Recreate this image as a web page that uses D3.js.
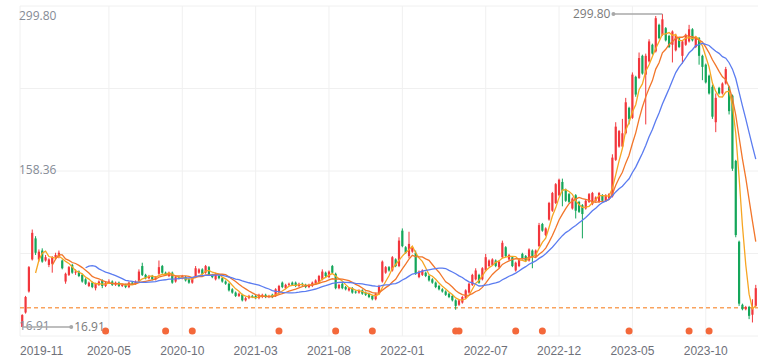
<!DOCTYPE html>
<html>
<head>
<meta charset="utf-8">
<script src="https://cdn.jsdelivr.net/npm/d3@7"></script>
<style>
  body { margin: 0; background: #fff; }
  svg { display: block; font-family: "Open Sans", "Liberation Sans", sans-serif; }
</style>
</head>
<body>
<div id="chart"></div>
<script>
"use strict";

// Weekly bars, first week 2019-11-01
const startDate = "2019-11-01";

const opens = [
    16.91, 30, 49, 78, 97, 78, 86, 77, 73, 74,
    80, 80, 77, 58, 64, 73, 66, 67, 64, 60,
    54, 57, 52, 55, 59, 54, 57, 58, 55, 57,
    54, 55, 53, 57, 56, 58, 72, 64, 61, 63,
    60, 65, 72, 66, 63, 66, 58, 62, 61, 62,
    60, 57, 62, 66, 69, 66, 71, 64, 60, 63,
    61, 58, 56, 51, 48, 45, 46, 41, 43, 45,
    45, 43, 44, 46, 44, 46, 45, 48, 57, 52,
    55, 57, 57, 54, 56, 55, 53, 54, 56, 57,
    60, 66, 62, 72, 65, 52, 56, 53, 50, 52,
    49, 48, 50, 48, 47, 45, 42, 47, 58, 66,
    71, 68, 78, 72, 104, 89, 81, 85, 84, 62,
    64, 66, 63, 60, 57, 54, 51, 49, 47, 45,
    41, 37, 39, 43, 48, 55, 60, 64, 60, 68,
    72, 73, 77, 71, 80, 89, 78, 80, 68, 72,
    83, 81, 77, 86, 81, 90, 110, 100, 114, 122,
    129, 136, 148, 141, 137, 124, 136, 130, 127, 124,
    130, 128, 131, 130, 136, 131, 133, 135, 168, 180,
    180, 192, 215, 206, 243, 242, 262, 245, 257, 272,
    266, 290, 281, 287, 280, 272, 267, 278, 262, 272,
    275, 286, 270, 278, 262, 254, 244, 234, 202, 233,
    228, 237, 234, 226, 167, 94, 37, 33, 35, 28,
    36
];

const closes = [
    27.7, 44, 71, 102, 84, 85, 76, 80, 78, 80,
    82, 84, 70, 65, 71, 66, 67, 63, 58, 56,
    57, 53, 56, 58, 54, 57, 58, 55, 57, 54,
    55, 53, 57, 56, 58, 67, 64, 61, 63, 60,
    62, 71, 66, 64, 66, 57, 62, 61, 63, 59,
    57, 61, 70, 69, 65, 72, 64, 62, 65, 61,
    58, 56, 50, 48, 45, 47, 41, 43, 45, 44,
    43, 46, 46, 44, 45, 44, 51, 54, 53, 55,
    56, 55, 54, 56, 55, 53, 55, 57, 59, 63,
    67, 63, 67, 66, 52, 55, 52, 51, 52, 48,
    48, 50, 47, 46, 44, 42, 47, 54, 76, 71,
    68, 80, 72, 95, 90, 84, 92, 89, 65, 67,
    68, 63, 59, 57, 53, 51, 49, 46, 44, 41,
    36, 41, 44, 50, 56, 64, 68, 57, 70, 80,
    77, 78, 72, 76, 93, 81, 82, 72, 75, 78,
    79, 77, 87, 81, 86, 109, 104, 106, 129, 138,
    146, 150, 140, 131, 130, 133, 122, 121, 119, 131,
    137, 138, 134, 138, 131, 136, 137, 170, 198, 194,
    192, 220, 205, 245, 227, 260, 246, 262, 275, 264,
    296, 278, 295, 276, 270, 284, 280, 270, 275, 281,
    286, 276, 279, 262, 252, 238, 228, 207, 224, 228,
    237, 250, 212, 160, 100, 38, 33, 35, 27, 34,
    52
];

const highs = [
    28.5, 45, 72, 105, 99, 87, 88, 82, 79, 81,
    84, 86, 78, 66, 72, 74, 69, 68, 65, 61,
    58, 58, 57, 59, 60, 58, 60, 59, 58, 58,
    56, 56, 58, 58, 59, 69, 75, 65, 64, 64,
    63, 77, 73, 67, 67, 67, 63, 63, 64, 63,
    61, 62, 72, 70, 70, 73, 72, 65, 66, 64,
    62, 59, 57, 52, 49, 48, 47, 44, 46, 46,
    46, 47, 47, 47, 46, 47, 52, 55, 58, 56,
    57, 58, 58, 57, 57, 56, 56, 58, 60, 64,
    69, 67, 68, 73, 66, 56, 57, 54, 53, 53,
    50, 51, 51, 49, 48, 46, 48, 55, 77, 72,
    72, 81, 79, 98, 106, 90, 103, 90, 86, 68,
    69, 67, 64, 61, 58, 55, 52, 50, 48, 46,
    42, 42, 45, 51, 57, 65, 70, 65, 71, 83,
    78, 79, 78, 77, 95, 90, 83, 81, 76, 79,
    84, 82, 88, 87, 87, 111, 111, 107, 130, 139,
    147, 151, 151, 142, 138, 134, 137, 131, 128, 132,
    138, 139, 135, 139, 137, 137, 138, 173, 202, 195,
    205, 224, 216, 247, 244, 265, 263, 264, 277, 273,
    298, 291, 299.8, 288, 281, 285, 282, 279, 276, 282,
    290, 287, 280, 279, 263, 255, 245, 236, 228, 234,
    238, 252, 235, 227, 168, 95, 38, 36, 36, 42,
    55
];

const lows = [
    16.91, 29, 48, 77, 82, 76, 75, 76, 71, 66,
    78, 79, 69, 56, 63, 65, 64, 62, 57, 55,
    53, 52, 50, 54, 52, 53, 56, 54, 54, 53,
    53, 52, 52, 55, 55, 57, 63, 60, 60, 59,
    59, 64, 65, 63, 62, 56, 57, 60, 60, 58,
    56, 56, 61, 65, 64, 65, 63, 61, 59, 60,
    57, 55, 49, 47, 44, 44, 40, 40, 42, 43,
    42, 42, 43, 43, 43, 43, 44, 47, 52, 51,
    54, 54, 53, 53, 54, 52, 52, 53, 55, 56,
    59, 62, 61, 65, 51, 51, 51, 50, 49, 47,
    47, 47, 46, 45, 43, 41, 41, 46, 57, 65,
    67, 67, 71, 71, 89, 83, 79, 84, 64, 61,
    63, 62, 58, 56, 52, 50, 48, 45, 43, 40,
    32.5, 36, 38, 42, 47, 54, 59, 56, 59, 67,
    71, 72, 71, 70, 79, 80, 77, 71, 67, 71,
    78, 76, 76, 70, 80, 89, 103, 99, 113, 121,
    128, 135, 126, 130, 129, 123, 115, 120, 97, 123,
    129, 127, 130, 129, 130, 130, 132, 134, 167, 179,
    179, 191, 200, 205, 225, 241, 245, 200, 256, 263,
    265, 277, 280, 275, 269, 256, 266, 269, 255, 271,
    274, 275, 269, 254, 240, 237, 227, 205, 193, 227,
    227, 236, 209, 158, 98, 36, 32, 32, 24, 21,
    35
];

const tickLabels = ["2019-11", "2020-05", "2020-10", "2021-03", "2021-08",
    "2022-01", "2022-07", "2022-12", "2023-05", "2023-10"];

const eventDates = ["2020-04-24", "2020-08-28", "2020-10-23", "2021-04-23", "2021-08-20",
    "2021-11-05", "2022-04-29", "2022-05-06", "2022-09-02", "2022-10-28",
    "2023-04-28", "2023-09-01", "2023-10-13"];

const maPeriods = [5, 10, 20];
const maColors = ["#f6a623", "#f2762a", "#5b7cf0"];
const refPrice = 34.4;

const upColor = "#f2363c";
const downColor = "#14a65a";

const width = 758;
const height = 359;
const grid = { left: 20, right: 758, top: 6, bottom: 336 };

//#region Data prep
const parse = d3.utcParse("%Y-%m-%d");
const fmt = d3.utcFormat("%Y-%m-%d");
const dates = opens.map((_, i) => fmt(d3.utcDay.offset(parse(startDate), 7 * i)));
const bars = dates.map((d, i) => ({ date: d, open: opens[i], high: highs[i], low: lows[i], close: closes[i] }));

const movingAverage = (values, period) =>
    values.map((v, i) => i < period - 1 ? null : d3.mean(values.slice(i - period + 1, i + 1)));

const tickDates = tickLabels.map(m => dates.find(d => d.startsWith(m)));
//#endregion

// Scales
const x = d3.scaleBand()
    .domain(dates)
    .range([grid.left, grid.right])
    .padding(0.34);

const y = d3.scaleLinear()
    .domain([d3.min(lows), d3.max(highs)])
    .range([327, 14]);

const cx = d => x(d) + x.bandwidth() / 2;

const svg = d3.select("#chart")
    .append("svg")
    .attr("width", width)
    .attr("height", height);

// Grid
const rows = d3.scaleLinear().domain([0, 4]).range([grid.bottom, grid.top]);
svg.append("g")
    .selectAll("line")
    .data(d3.range(5))
    .join("line")
    .attr("x1", grid.left)
    .attr("x2", grid.right)
    .attr("y1", d => rows(d))
    .attr("y2", d => rows(d))
    .attr("stroke", "#f0f0f0");

svg.append("g")
    .selectAll("line")
    .data([grid.left].concat(tickDates.slice(1).map(cx)))
    .join("line")
    .attr("x1", d => d)
    .attr("x2", d => d)
    .attr("y1", grid.top)
    .attr("y2", grid.bottom)
    .attr("stroke", "#f0f0f0");

// X axis
const xAxis = svg.append("g")
    .attr("transform", `translate(0,${grid.bottom})`)
    .call(d3.axisBottom(x)
        .tickValues(tickDates)
        .tickSize(0)
        .tickPadding(10)
        .tickFormat(d => d.slice(0, 7)));
xAxis.select(".domain").remove();
xAxis.selectAll("text")
    .attr("fill", "#6e7079")
    .attr("font-size", 12)
    .style("font-family", "inherit");
xAxis.select(".tick text")
    .attr("text-anchor", "start")
    .attr("x", grid.left - cx(tickDates[0]));

// Reference price
svg.append("line")
    .attr("x1", grid.left)
    .attr("x2", grid.right)
    .attr("y1", y(refPrice))
    .attr("y2", y(refPrice))
    .attr("stroke", "#f9a35e")
    .attr("stroke-width", 1.5)
    .attr("stroke-dasharray", "4,3");

// Candles
const candle = svg.append("g")
    .selectAll("g")
    .data(bars)
    .join("g")
    .attr("fill", d => d.close >= d.open ? upColor : downColor)
    .attr("stroke", d => d.close >= d.open ? upColor : downColor);

candle.append("line")
    .attr("x1", d => cx(d.date))
    .attr("x2", d => cx(d.date))
    .attr("y1", d => y(d.high))
    .attr("y2", d => y(d.low))
    .attr("stroke-width", 1);

candle.append("rect")
    .attr("x", d => x(d.date))
    .attr("width", x.bandwidth())
    .attr("y", d => y(Math.max(d.open, d.close)))
    .attr("height", d => Math.max(1, Math.abs(y(d.open) - y(d.close))))
    .attr("stroke", "none");

// Moving averages
const maLine = d3.line()
    .defined(d => d != null)
    .x((d, i) => cx(dates[i]))
    .y(d => y(d));

maPeriods.forEach((p, k) => {
    svg.append("path")
        .datum(movingAverage(closes, p))
        .attr("d", maLine)
        .attr("fill", "none")
        .attr("stroke", maColors[k])
        .attr("stroke-width", 1.3);
});

// Y labels: max, middle, min
const yMin = d3.min(lows);
const yMax = d3.max(highs);
svg.append("g")
    .selectAll("text")
    .data([yMax, (yMin + yMax) / 2, yMin])
    .join("text")
    .attr("x", grid.left - 1)
    .attr("y", d => Math.max(y(d) - 1, 16))
    .attr("dy", "0.35em")
    .attr("fill", "#858b96")
    .attr("font-size", 12)
    .text(d => d.toFixed(2));

// Min / max markers
const maxBar = bars[d3.maxIndex(highs)];
const minBar = bars[d3.minIndex(lows)];
const markers = [
    { x0: cx(maxBar.date), y0: y(maxBar.high), dir: -1, label: maxBar.high.toFixed(2) },
    { x0: cx(minBar.date), y0: y(minBar.low), dir: 1, label: minBar.low.toFixed(2) }
];

const marker = svg.append("g")
    .selectAll("g")
    .data(markers)
    .join("g");

marker.append("line")
    .attr("x1", d => d.x0)
    .attr("x2", d => d.x0 + d.dir * 49)
    .attr("y1", d => d.y0)
    .attr("y2", d => d.y0)
    .attr("stroke", "#a8a8a8")
    .attr("stroke-width", 1.5);

marker.append("circle")
    .attr("cx", d => d.x0 + d.dir * 49)
    .attr("cy", d => d.y0)
    .attr("r", 2)
    .attr("fill", "#a8a8a8");

marker.append("text")
    .attr("x", d => d.x0 + d.dir * 52)
    .attr("y", d => d.y0)
    .attr("dy", "0.35em")
    .attr("text-anchor", d => d.dir < 0 ? "end" : "start")
    .attr("fill", "#7a7a7a")
    .attr("font-size", 12)
    .text(d => d.label);

// Event dots
svg.append("g")
    .selectAll("circle")
    .data(eventDates)
    .join("circle")
    .attr("cx", d => cx(d))
    .attr("cy", 331)
    .attr("r", 3.5)
    .attr("fill", "#f4683a");
</script>
</body>
</html>
